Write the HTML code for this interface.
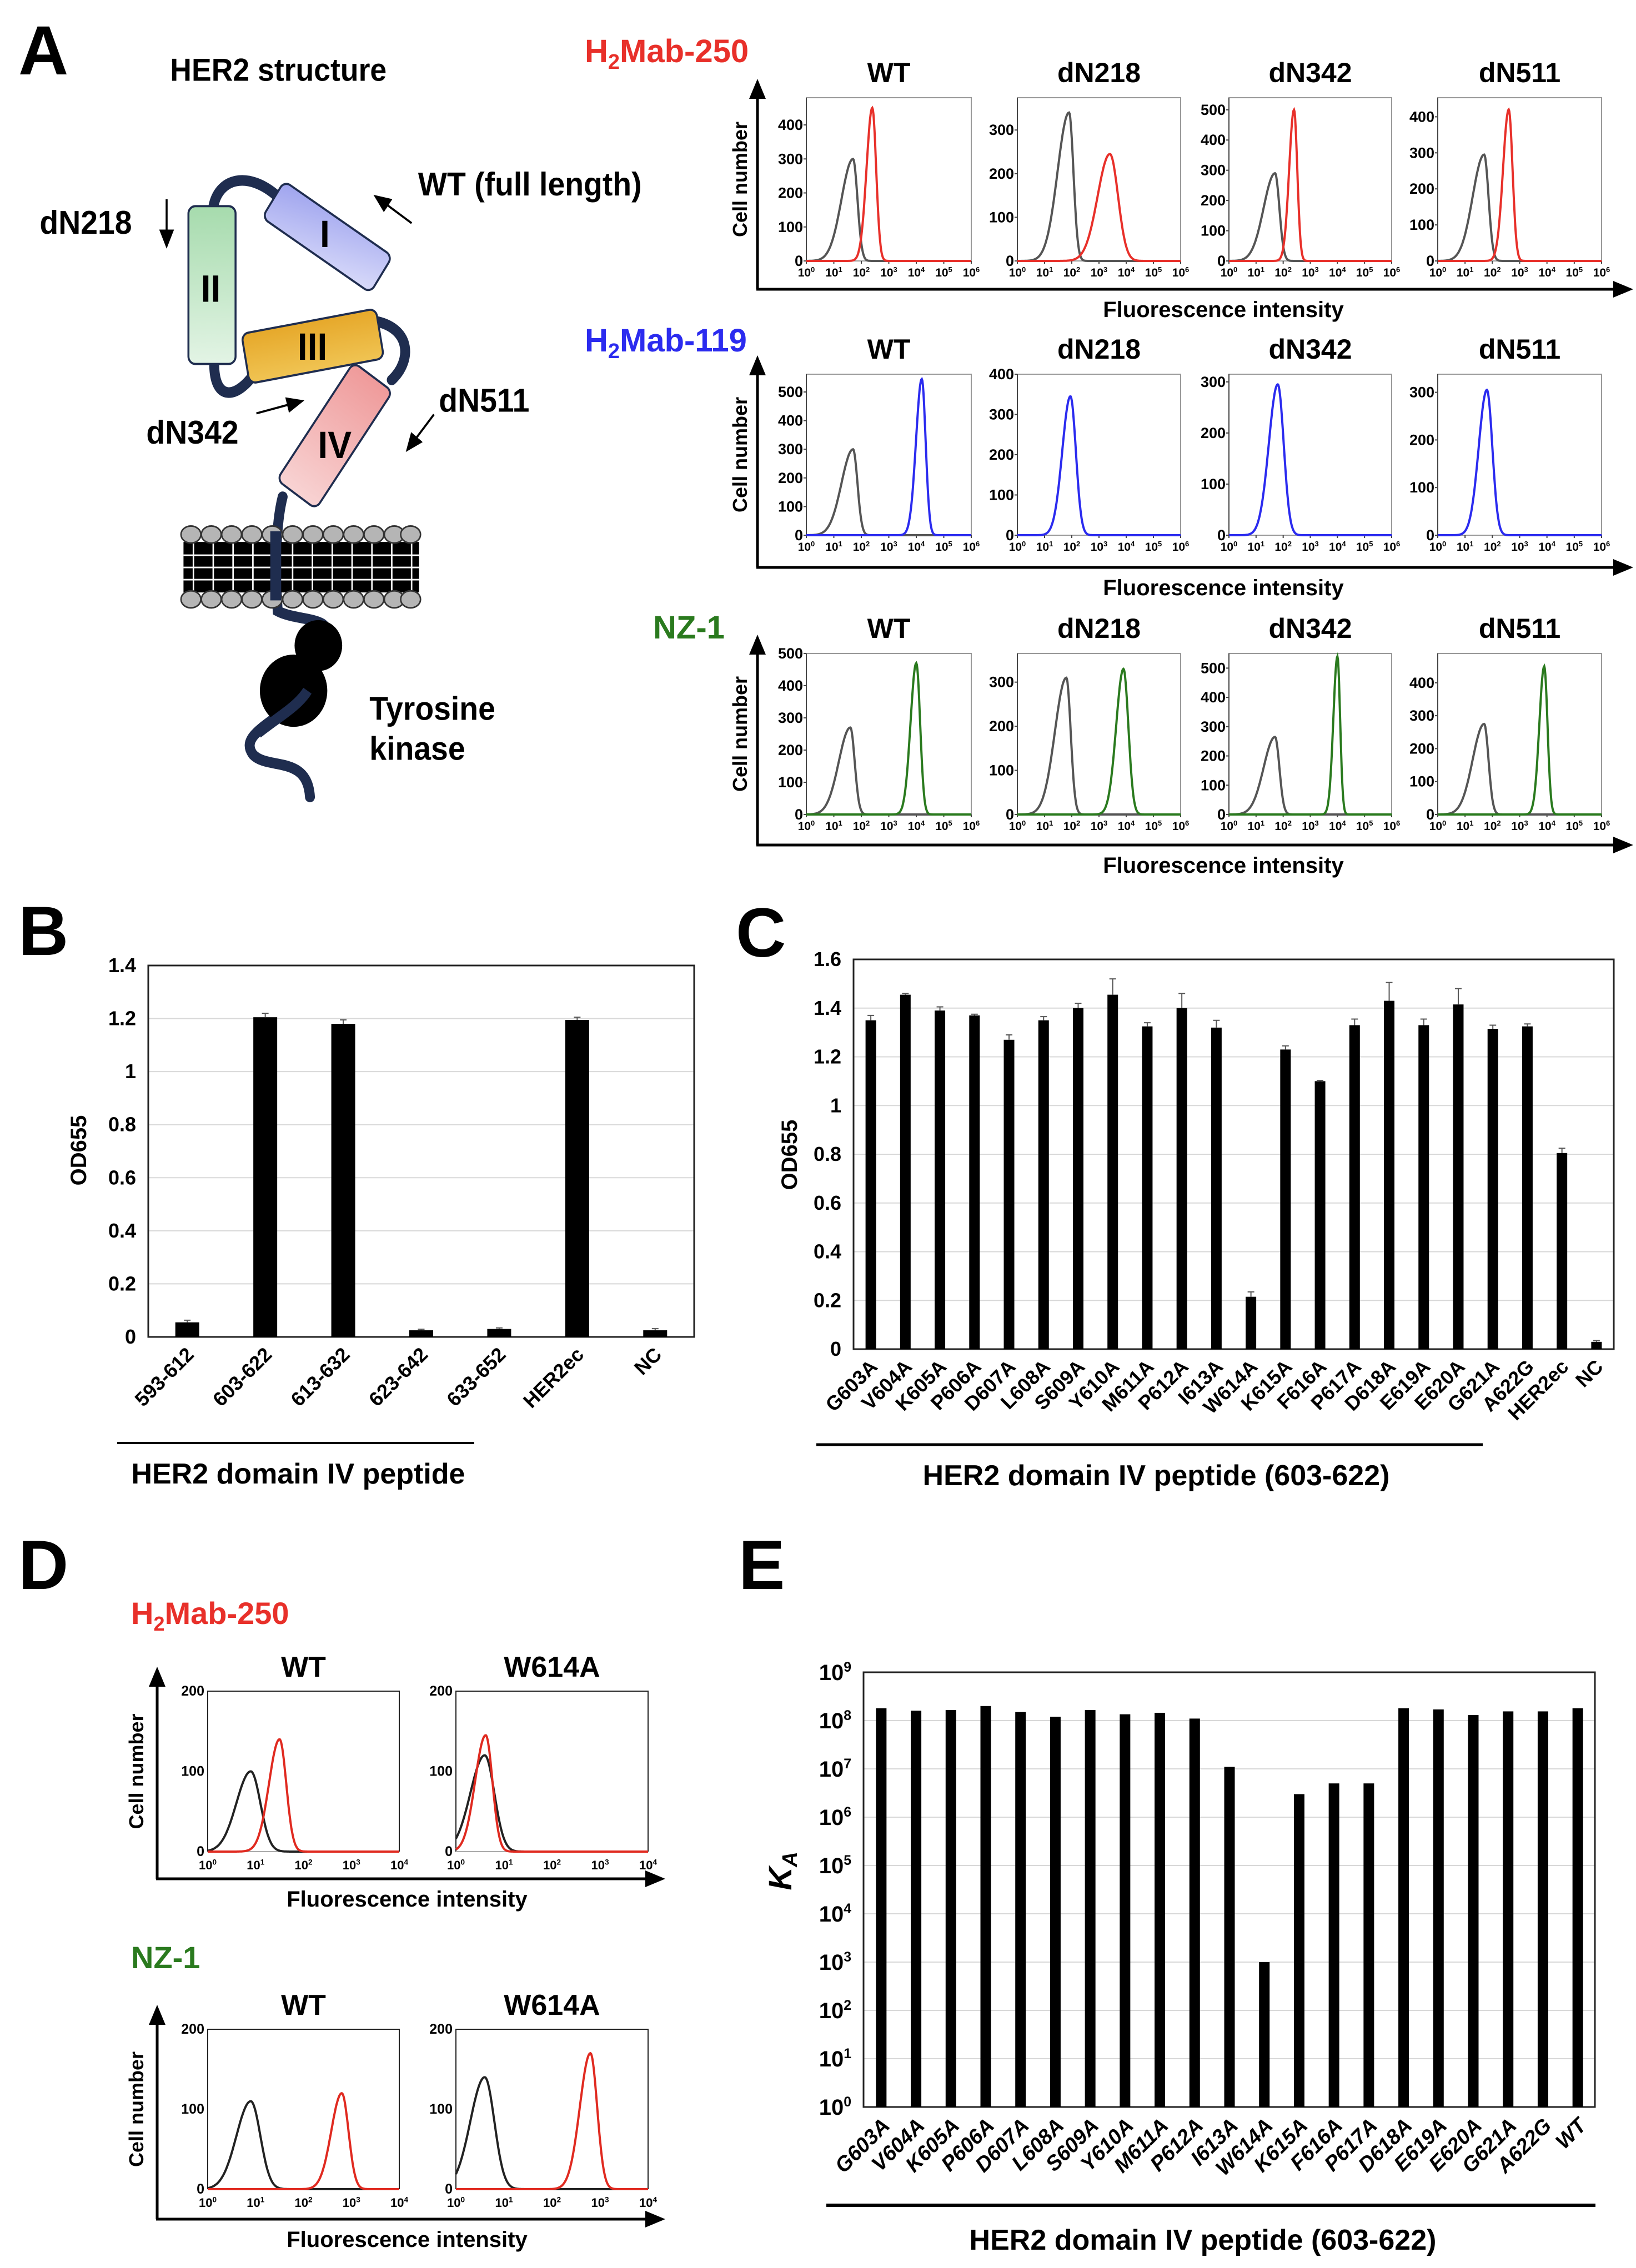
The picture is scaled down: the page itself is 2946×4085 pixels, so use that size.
<!DOCTYPE html>
<html><head><meta charset="utf-8"><style>
html,body{margin:0;padding:0;background:#fff}
svg{display:block;font-family:"Liberation Sans",Arial,sans-serif}
</style></head><body>
<svg id="fig" xmlns="http://www.w3.org/2000/svg" width="2946" height="4085" viewBox="0 0 2946 4085">
<defs>
<marker id="arr" markerWidth="10" markerHeight="10" refX="8" refY="5" orient="auto" markerUnits="userSpaceOnUse"><path d="M0,0 L10,5 L0,10 z" fill="#000"/></marker>
<marker id="bigarr" markerWidth="36" markerHeight="30" refX="30" refY="15" orient="auto" markerUnits="userSpaceOnUse"><path d="M0,0 L36,15 L0,30 z" fill="#000"/></marker>
<linearGradient id="gI" x1="0" y1="0" x2="1" y2="1"><stop offset="0" stop-color="#9ea3ee"/><stop offset="1" stop-color="#d9dbfa"/></linearGradient>
<linearGradient id="gII" x1="0" y1="0" x2="0" y2="1"><stop offset="0" stop-color="#a6dbad"/><stop offset="1" stop-color="#e3f4e5"/></linearGradient>
<linearGradient id="gIII" x1="0" y1="0" x2="0" y2="1"><stop offset="0" stop-color="#e6a82a"/><stop offset="1" stop-color="#f0c453"/></linearGradient>
<linearGradient id="gIV" x1="0" y1="0" x2="1" y2="0"><stop offset="0" stop-color="#f8d3d3"/><stop offset="1" stop-color="#ef9a9a"/></linearGradient>
</defs>

<!-- Panel letters -->
<g font-weight="bold" font-size="125" fill="#000">
<text x="33" y="134">A</text>
<text x="33" y="1720">B</text>
<text x="1325" y="1723">C</text>
<text x="33" y="2862">D</text>
<text x="1330" y="2862">E</text>
</g>

<!-- HER2 schematic, drawn in zoom coords -->
<g transform="scale(0.893,0.957)">
  <text x="343" y="152" font-size="60" font-weight="bold">HER2 structure</text>
  <g fill="none" stroke="#1f2d4f" stroke-width="20" stroke-linecap="round">
    <path d="M430,390 C440,335 500,320 560,370"/>
    <path d="M432,680 C430,760 480,750 515,700"/>
    <path d="M760,605 C830,620 830,680 790,715"/>
    <path d="M570,935 C555,990 555,1080 560,1150 C600,1170 680,1160 650,1200"/>
    <path d="M620,1300 C560,1360 480,1380 510,1420 C540,1450 620,1420 625,1500"/>
  </g>
  <g>
    <rect x="370" y="1020" width="475" height="95" fill="#000"/>
    <g stroke="#fff" stroke-width="3">
      <path d="M370,1045 H845 M370,1068 H845 M370,1091 H845"/>
      <path d="M390,1020 V1115 M430,1020 V1115 M470,1020 V1115 M510,1020 V1115 M590,1020 V1115 M630,1020 V1115 M670,1020 V1115 M710,1020 V1115 M750,1020 V1115 M790,1020 V1115 M830,1020 V1115"/>
    </g>
    <g fill="#b5b5b5" stroke="#333" stroke-width="3" id="heads">
      <ellipse cx="385" cy="1006" rx="20" ry="16"/><ellipse cx="426" cy="1006" rx="20" ry="16"/><ellipse cx="467" cy="1006" rx="20" ry="16"/><ellipse cx="508" cy="1006" rx="20" ry="16"/><ellipse cx="549" cy="1006" rx="20" ry="16"/><ellipse cx="590" cy="1006" rx="20" ry="16"/><ellipse cx="631" cy="1006" rx="20" ry="16"/><ellipse cx="672" cy="1006" rx="20" ry="16"/><ellipse cx="713" cy="1006" rx="20" ry="16"/><ellipse cx="754" cy="1006" rx="20" ry="16"/><ellipse cx="795" cy="1006" rx="20" ry="16"/><ellipse cx="828" cy="1006" rx="20" ry="16"/>
      <ellipse cx="385" cy="1128" rx="20" ry="16"/><ellipse cx="426" cy="1128" rx="20" ry="16"/><ellipse cx="467" cy="1128" rx="20" ry="16"/><ellipse cx="508" cy="1128" rx="20" ry="16"/><ellipse cx="549" cy="1128" rx="20" ry="16"/><ellipse cx="590" cy="1128" rx="20" ry="16"/><ellipse cx="631" cy="1128" rx="20" ry="16"/><ellipse cx="672" cy="1128" rx="20" ry="16"/><ellipse cx="713" cy="1128" rx="20" ry="16"/><ellipse cx="754" cy="1128" rx="20" ry="16"/><ellipse cx="795" cy="1128" rx="20" ry="16"/><ellipse cx="828" cy="1128" rx="20" ry="16"/>
    </g>
    <rect x="545" y="1000" width="22" height="130" fill="#1f2d4f"/>
  </g>
  <circle cx="642" cy="1215" r="48" fill="#000"/>
  <circle cx="592" cy="1300" r="68" fill="#000"/>
  <path d="M620,1300 C600,1330 560,1350 520,1380" fill="none" stroke="#1f2d4f" stroke-width="20"/>
  <rect x="380" y="388" width="95" height="297" rx="14" fill="url(#gII)" stroke="#1f2d4f" stroke-width="4"/>
  <rect x="530" y="405" width="260" height="82" rx="14" transform="rotate(33 660 446)" fill="url(#gI)" stroke="#1f2d4f" stroke-width="4"/>
  <rect x="493" y="604" width="275" height="95" rx="14" transform="rotate(-10 630 651)" fill="url(#gIII)" stroke="#1f2d4f" stroke-width="4"/>
  <rect x="540" y="772" width="270" height="96" rx="14" transform="rotate(-55 675 820)" fill="url(#gIV)" stroke="#1f2d4f" stroke-width="4"/>
  <g font-weight="bold" font-size="72" text-anchor="middle" fill="#000">
    <text x="655" y="465">I</text><text x="425" y="568">II</text><text x="630" y="677">III</text><text x="675" y="862">IV</text>
  </g>
  <g font-weight="bold" font-size="62" fill="#000">
    <text x="80" y="440">dN218</text>
    <text x="843" y="368">WT (full length)</text>
    <text x="295" y="835">dN342</text>
    <text x="885" y="775">dN511</text>
    <text x="745" y="1355">Tyrosine<tspan x="745" y="1430">kinase</tspan></text>
  </g>
  <g stroke="#000" stroke-width="4" fill="none">
    <line x1="336" y1="375" x2="336" y2="462" marker-end="url(#bigarr)"/>
    <line x1="830" y1="420" x2="758" y2="370" marker-end="url(#bigarr)"/>
    <line x1="517" y1="778" x2="608" y2="755" marker-end="url(#bigarr)"/>
    <line x1="875" y1="780" x2="822" y2="846" marker-end="url(#bigarr)"/>
  </g>
</g>

<g id="gA"></g><g id="gB"></g><g id="gC"></g><g id="gD"></g><g id="gE"></g>
</svg>
<script>
// ===== Panel A flow cytometry data =====
const aMutants=['WT','dN218','dN342','dN511'];
const aAntibodies=['250','119','NZ-1'];
const aColors=['#e8302a','#2b2bef','#2a7a1e'];
const aYMax=[[480,374,540,453],[562,400,315,338],[500,365,550,489]];
const aGreyCenter=[[1.7,1.9,1.7,1.7],[1.7,null,null,null],[1.6,1.8,1.7,1.7]];
const aGreyHeight=[[300,340,290,295],[300,0,0,0],[270,310,265,275]];
const aColCenter=[[2.4,3.4,2.4,2.6],[4.2,1.95,1.8,1.8],[4.0,3.9,4.0,3.9]];
const aColHeight=[[450,245,500,420],[545,345,295,305],[470,330,540,450]];
const aColWidth=[[0.14,0.3,0.12,0.14],[0.14,0.2,0.22,0.2],[0.14,0.18,0.1,0.12]];
const aXTicks=[0,1,2,3,4,5,6];
// ===== Panel B data =====
const bCats=['593-612','603-622','613-632','623-642','633-652','HER2ec','NC'];
const bVals=[0.055,1.205,1.18,0.025,0.03,1.195,0.025];
const bErr=[0.008,0.015,0.015,0.004,0.004,0.01,0.006];
const bTicks=[0,0.2,0.4,0.6,0.8,1,1.2,1.4];
// ===== Panel C data =====
const cCats=['G603A','V604A','K605A','P606A','D607A','L608A','S609A','Y610A','M611A','P612A','I613A','W614A','K615A','F616A','P617A','D618A','E619A','E620A','G621A','A622G','HER2ec','NC'];
const cVals=[1.35,1.455,1.39,1.37,1.27,1.35,1.40,1.455,1.325,1.40,1.32,0.215,1.23,1.10,1.33,1.43,1.33,1.415,1.315,1.325,0.805,0.03];
const cErr=[0.02,0.005,0.015,0.005,0.02,0.015,0.02,0.065,0.015,0.06,0.03,0.02,0.015,0.003,0.025,0.075,0.025,0.065,0.015,0.01,0.02,0.005];
const cTicks=[0,0.2,0.4,0.6,0.8,1,1.2,1.4,1.6];
// ===== Panel D data =====
const dAntibodies=['H2Mab-250','NZ-1'];
const dMutants=['WT','W614A'];
const dGreyCenter=[[0.9,0.6],[0.9,0.6]];
const dGreyHeight=[[100,120],[110,140]];
const dRedCenter=[[1.5,0.62],[2.8,2.8]];
const dRedHeight=[[140,145],[120,170]];
const dYTicks=[0,100,200];
const dXTicks=[0,1,2,3,4];
// ===== Panel E data =====
const eCats=['G603A','V604A','K605A','P606A','D607A','L608A','S609A','Y610A','M611A','P612A','I613A','W614A','K615A','F616A','P617A','D618A','E619A','E620A','G621A','A622G','WT'];
const eVals=[1.8e8,1.6e8,1.65e8,2e8,1.5e8,1.2e8,1.65e8,1.35e8,1.45e8,1.1e8,1.1e7,1e3,3e6,5e6,5e6,1.8e8,1.7e8,1.3e8,1.55e8,1.55e8,1.8e8];
const eTicks=[0,1,2,3,4,5,6,7,8,9];

const NS='http://www.w3.org/2000/svg';
function mk(parent,tag,attrs,txt){const e=document.createElementNS(NS,tag);for(const k in attrs)e.setAttribute(k,attrs[k]);if(txt!==undefined)e.textContent=txt;parent.appendChild(e);return e;}
function peakPath(x0,x1,y0,y1,xmaxLog,ymax,c,h,wl,wr){
  let d='';const n=300;
  for(let i=0;i<=n;i++){const lx=xmaxLog*i/n;const w=lx<c?wl:wr;let v=h*Math.exp(-0.5*Math.pow((lx-c)/w,2));
    const px=x0+(x1-x0)*lx/xmaxLog;const py=y1-(y1-y0)*v/ymax;d+=(i?'L':'M')+px.toFixed(1)+','+py.toFixed(1);}
  return d;
}
function sup(parent,x,y,base,exp,fs,anchor){
  const t=mk(parent,'text',{x:x,y:y,'font-size':fs,'font-weight':'bold','text-anchor':anchor||'middle'});
  mk(t,'tspan',{},base);mk(t,'tspan',{'font-size':fs*0.62,dy:-fs*0.38},exp);return t;
}

// ===== Panel A charts =====
(function(){
  const g=document.getElementById('gA');
  const rowY=[[176,470],[674,964],[1177,1467]];
  const colX=[[1452,1749],[1832,2126],[2213,2506],[2589,2884]];
  const axisY=[521,1022,1522];
  const labelY=[112,633,1150];
  const labelX=[1053,1053,1176];
  for(let r=0;r<3;r++){
    const [y0,y1]=rowY[r];
    const lab=mk(g,'text',{x:labelX[r],y:labelY[r],'font-size':58,'font-weight':'bold',fill:aColors[r]});
    
    
    if(r<2){mk(lab,'tspan',{},'H');mk(lab,'tspan',{'font-size':38,dy:12},'2');mk(lab,'tspan',{dy:-12},'Mab-'+aAntibodies[r]);}
    else lab.textContent='NZ-1';
    const ya=mk(g,'line',{x1:1364,y1:axisY[r],x2:1364,y2:y0-28,stroke:'#000','stroke-width':5,'marker-end':'url(#bigarr)'});
    
    
    const xa=mk(g,'line',{x1:1362,y1:axisY[r],x2:2935,y2:axisY[r],stroke:'#000','stroke-width':5,'marker-end':'url(#bigarr)'});
    
    
    const cn=mk(g,'text',{x:0,y:0,'font-size':36,'font-weight':'bold','text-anchor':'middle',transform:'translate(1345,'+((y0+y1)/2)+') rotate(-90)'},'Cell number');
    
    
    const fi=mk(g,'text',{x:2203,y:axisY[r]+50,'font-size':40,'font-weight':'bold','text-anchor':'middle'},'Fluorescence intensity');
    
    
    for(let c=0;c<4;c++){
      const [x0,x1]=colX[c];const ym=aYMax[r][c];
      const tt=mk(g,'text',{x:(x0+x1)/2,y:y0-28,'font-size':50,'font-weight':'bold','text-anchor':'middle'},aMutants[c]);
      
      
      const box=mk(g,'rect',{x:x0,y:y0,width:x1-x0,height:y1-y0,fill:'#fff',stroke:'#999','stroke-width':2});
      
      
      mk(g,'line',{x1:x0,y1:y0,x2:x0,y2:y1,stroke:'#444','stroke-width':2});
      for(let t=0;t<=ym;t+=100){const py=y1-(y1-y0)*t/ym;
        const tl=mk(g,'text',{x:x0-6,y:py+9,'font-size':27,'font-weight':'bold','text-anchor':'end'},String(t));
        
        
        mk(g,'line',{x1:x0-5,y1:py,x2:x0,y2:py,stroke:'#444','stroke-width':2});}
      aXTicks.forEach(t=>{const px=x0+(x1-x0)*t/6;
        const tl=sup(g,px,y1+28,'10',String(t),21);
        
        
        mk(g,'line',{x1:px,y1:y1,x2:px,y2:y1+5,stroke:'#444','stroke-width':2});});
      if(aGreyCenter[r][c]!==null){
        const p=mk(g,'path',{d:peakPath(x0,x1,y0,y1,6,ym,aGreyCenter[r][c],aGreyHeight[r][c],0.42,0.16),fill:'none',stroke:'#555','stroke-width':4});
        
        
      }
      const p2=mk(g,'path',{d:peakPath(x0,x1,y0,y1,6,ym,aColCenter[r][c],aColHeight[r][c],aColWidth[r][c]*1.5,aColWidth[r][c]),fill:'none',stroke:aColors[r],'stroke-width':4});
      
      
    }
  }
})();

// ===== Bar chart helper for B and C =====
function barChart(g,cats,vals,errs,ticks,box,barW,prefix,labelFs){
  const [x0,x1,yTop,yBot]=box;const tmax=ticks[ticks.length-1];
  const yS=v=>yBot-(yBot-yTop)*v/tmax;
  const n=cats.length;const step=(x1-x0)/n;const xS=i=>x0+step*(i+0.5);
  ticks.forEach(t=>{
    if(t>0&&t<tmax)mk(g,'line',{x1:x0,y1:yS(t),x2:x1,y2:yS(t),stroke:'#d8d8d8','stroke-width':2});
    const tl=mk(g,'text',{x:x0-22,y:yS(t)+12,'font-size':36,'font-weight':'bold','text-anchor':'end'},String(t));
    
    
  });
  const fr=mk(g,'rect',{x:x0,y:yTop,width:x1-x0,height:yBot-yTop,fill:'none',stroke:'#222','stroke-width':3});
  
  
  cats.forEach((c,i)=>{
    const cx=xS(i);
    const b=mk(g,'rect',{x:cx-barW/2,y:yS(vals[i]),width:barW,height:yBot-yS(vals[i]),fill:'#000'});
    
    
    const ey=yS(vals[i]+errs[i]);
    mk(g,'path',{d:'M'+cx+','+yS(vals[i])+'V'+ey+'M'+(cx-6)+','+ey+'H'+(cx+6),stroke:'#555','stroke-width':2,fill:'none'});
    const tl=mk(g,'text',{x:0,y:0,'font-size':labelFs,'font-weight':'bold','text-anchor':'end',transform:'translate('+(cx+14)+','+(yBot+34)+') rotate(-45)'},c);
    
    
  });
}
(function(){
  const g=document.getElementById('gB');
  barChart(g,bCats,bVals,bErr,bTicks,[267,1250,1739,2408],43,'b',36);
  const yl=mk(g,'text',{x:0,y:0,'font-size':40,'font-weight':'bold','text-anchor':'middle',transform:'translate(155,2072) rotate(-90)'},'OD655');
  
  
  mk(g,'line',{x1:211,y1:2599,x2:854,y2:2599,stroke:'#000','stroke-width':4});
  const t=mk(g,'text',{x:537,y:2672,'font-size':52,'font-weight':'bold','text-anchor':'middle'},'HER2 domain IV peptide');
  
  
})();
(function(){
  const g=document.getElementById('gC');
  barChart(g,cCats,cVals,cErr,cTicks,[1537,2906,1728,2430],19,'c',36);
  const yl=mk(g,'text',{x:0,y:0,'font-size':40,'font-weight':'bold','text-anchor':'middle',transform:'translate(1435,2080) rotate(-90)'},'OD655');
  
  
  mk(g,'line',{x1:1470,y1:2602,x2:2670,y2:2602,stroke:'#000','stroke-width':5});
  const t=mk(g,'text',{x:2082,y:2675,'font-size':52,'font-weight':'bold','text-anchor':'middle'},'HER2 domain IV peptide (603-622)');
  
  
})();

// ===== Panel D =====
(function(){
  const g=document.getElementById('gD');
  const rowY=[[3046,3335],[3655,3943]];
  const colX=[[374,719],[821,1167]];
  const axisY=[3384,3997];
  const labY=[2925,3545];const colorsD=['#e8302a','#2a7a1e'];
  for(let r=0;r<2;r++){
    const [y0,y1]=rowY[r];
    const lab=mk(g,'text',{x:236,y:labY[r],'font-size':56,'font-weight':'bold',fill:colorsD[r]});
    
    
    if(r===0){mk(lab,'tspan',{},'H');mk(lab,'tspan',{'font-size':36,dy:12},'2');mk(lab,'tspan',{dy:-12},'Mab-250');}
    else lab.textContent=dAntibodies[1];
    mk(g,'line',{x1:283,y1:axisY[r],x2:283,y2:y0-38,stroke:'#000','stroke-width':5,'marker-end':'url(#bigarr)'});
    mk(g,'line',{x1:281,y1:axisY[r],x2:1192,y2:axisY[r],stroke:'#000','stroke-width':5,'marker-end':'url(#bigarr)'});
    const cn=mk(g,'text',{x:0,y:0,'font-size':36,'font-weight':'bold','text-anchor':'middle',transform:'translate(258,'+((y0+y1)/2)+') rotate(-90)'},'Cell number');
    
    
    const fi=mk(g,'text',{x:733,y:axisY[r]+50,'font-size':40,'font-weight':'bold','text-anchor':'middle'},'Fluorescence intensity');
    
    
    for(let c=0;c<2;c++){
      const [x0,x1]=colX[c];
      const tt=mk(g,'text',{x:(x0+x1)/2,y:y0-26,'font-size':52,'font-weight':'bold','text-anchor':'middle'},dMutants[c]);
      
      
      mk(g,'path',{d:'M'+x0+','+y1+'V'+y0+'H'+x1+'V'+y1,fill:'none',stroke:'#222','stroke-width':2});
      mk(g,'line',{x1:x0,y1:y1,x2:x1,y2:y1,stroke:'#aaa','stroke-width':2});
      dYTicks.forEach(t=>{const py=y1-(y1-y0)*t/200;
        const tl=mk(g,'text',{x:x0-6,y:py+8,'font-size':25,'font-weight':'bold','text-anchor':'end'},String(t));
        
        });
      dXTicks.forEach(t=>{const px=x0+(x1-x0)*t/4;
        const tl=sup(g,px,y1+32,'10',String(t),22);
        
        });
      const p=mk(g,'path',{d:peakPath(x0,x1,y0,y1,4,200,dGreyCenter[r][c],dGreyHeight[r][c],0.3,0.2),fill:'none',stroke:'#222','stroke-width':4});
      
      
      const p2=mk(g,'path',{d:peakPath(x0,x1,y0,y1,4,200,dRedCenter[r][c],dRedHeight[r][c],0.22,0.14),fill:'none',stroke:'#e02a20','stroke-width':4});
      
      
    }
  }
})();

// ===== Panel E =====
(function(){
  const g=document.getElementById('gE');
  const x0=1555,x1=2872,yTop=3012,yBot=3795;
  const yS=v=>yBot-(yBot-yTop)*Math.log10(v)/9;
  const step=(x1-x0)/eCats.length;const xS=i=>x0+step*(i+0.5);
  eTicks.forEach(t=>{const py=yBot-(yBot-yTop)*t/9;
    if(t>0&&t<9)mk(g,'line',{x1:x0,y1:py,x2:x1,y2:py,stroke:'#d8d8d8','stroke-width':2});
    const tl=sup(g,x0-22,py+14,'10',String(t),40,'end');
    
    });
  const fr=mk(g,'rect',{x:x0,y:yTop,width:x1-x0,height:yBot-yTop,fill:'none',stroke:'#222','stroke-width':3});
  
  
  eCats.forEach((c,i)=>{const cx=xS(i);
    const b=mk(g,'rect',{x:cx-9,y:yS(eVals[i]),width:19,height:yBot-yS(eVals[i]),fill:'#000'});
    
    
    const tl=mk(g,'text',{x:0,y:0,'font-size':38,'font-style':'italic','font-weight':'bold','text-anchor':'end',transform:'translate('+(cx+18)+','+(yBot+36)+') rotate(-45)'},c);
    
    });
  const yl=mk(g,'text',{x:0,y:0,'font-size':58,'font-weight':'bold','font-style':'italic','text-anchor':'middle',transform:'translate(1425,3370) rotate(-90)'});
  
  
  mk(yl,'tspan',{},'K');mk(yl,'tspan',{'font-size':38,dy:10},'A');
  mk(g,'line',{x1:1488,y1:3972,x2:2873,y2:3972,stroke:'#000','stroke-width':6});
  const t=mk(g,'text',{x:2166,y:4052,'font-size':52,'font-weight':'bold','text-anchor':'middle'},'HER2 domain IV peptide (603-622)');
  
  
})();
</script>
</body></html>
